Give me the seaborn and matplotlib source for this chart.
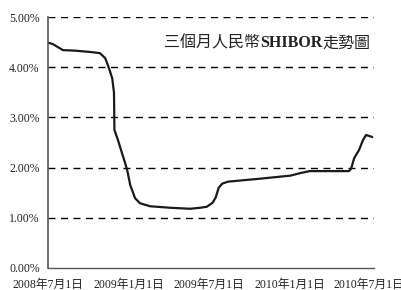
import pandas as pd
import matplotlib
matplotlib.use('Agg')
import matplotlib.pyplot as plt
import seaborn as sns

# 3-month CNY SHIBOR
dates = ['2008-07-01', '2008-07-12', '2008-08-04', '2008-08-31', '2008-10-09',
         '2008-10-27', '2008-11-08', '2008-11-15', '2008-11-24', '2008-11-28',
         '2008-11-29', '2008-12-07', '2008-12-14', '2008-12-23', '2008-12-28',
         '2009-01-04', '2009-01-15', '2009-01-26', '2009-02-18', '2009-04-05',
         '2009-05-20', '2009-06-12', '2009-06-27', '2009-07-10', '2009-07-17',
         '2009-07-24', '2009-08-01', '2009-08-14', '2009-10-27', '2010-01-03',
         '2010-01-25', '2010-02-16', '2010-05-16', '2010-05-21', '2010-05-28',
         '2010-06-08', '2010-06-17', '2010-06-24', '2010-07-01', '2010-07-08']
rates = [4.49, 4.46, 4.34, 4.33, 4.30,
         4.28, 4.18, 4.02, 3.78, 3.49,
         2.75, 2.55, 2.35, 2.10, 1.95,
         1.65, 1.39, 1.29, 1.23, 1.20,
         1.18, 1.20, 1.22, 1.30, 1.40,
         1.60, 1.68, 1.72, 1.78, 1.84,
         1.89, 1.93, 1.93, 1.98, 2.19,
         2.35, 2.55, 2.65, 2.63, 2.61]

tick_dates = ['2008-07-01', '2009-01-01', '2009-07-01', '2010-01-01', '2010-07-01']
tick_labels = ['2008年7月1日', '2009年1月1日', '2009年7月1日', '2010年1月1日', '2010年7月1日']
y_ticks = [0, 1, 2, 3, 4, 5]

df = pd.DataFrame({'date': pd.to_datetime(dates), 'rate': rates})

sns.set_style('white')
plt.rcParams['font.family'] = ['Liberation Serif', 'Noto Sans CJK TC']

fig = plt.figure(figsize=(4.02, 2.90), dpi=100)
ax = fig.add_axes([48/402, 22/290, 326/402, 251/290])

sns.lineplot(data=df, x='date', y='rate', color='#1a1a1a', linewidth=1.6, ax=ax)

ax.set_ylim(0, 5)
ax.set_xlim(pd.Timestamp('2008-07-01'), pd.Timestamp('2010-07-12'))
ax.set_yticks(y_ticks)
ax.set_yticklabels([f'{v:.2f}%' for v in y_ticks], fontsize=8.5, color='#222222')
ax.set_xticks(pd.to_datetime(tick_dates))
ax.set_xticklabels(tick_labels, fontsize=8.5, color='#222222')
ax.tick_params(axis='x', direction='in', length=4, width=0.8, color='#333333', pad=8)
ax.tick_params(axis='y', length=0, pad=6)

for v in y_ticks[1:]:
    ax.axhline(v, color='black', linestyle=(0, (5, 4)), linewidth=1.0, zorder=0)

sns.despine(ax=ax, top=True, right=True)
ax.spines['left'].set_color('#555555')
ax.spines['bottom'].set_color('#555555')
ax.spines['left'].set_linewidth(1.2)
ax.spines['bottom'].set_linewidth(1.0)
ax.set_xlabel('')
ax.set_ylabel('')

# title in three pieces so SHIBOR can be bold
t1 = ax.text(0.355, 0.896, '三個月人民幣', transform=ax.transAxes,
             ha='left', va='center', fontsize=11.5, color='#222222',
             family='Noto Sans CJK TC')
t2 = ax.annotate('SHIBOR', xy=(1, 0.5), xycoords=t1, ha='left', va='center',
                 fontsize=11.5, fontweight='bold', color='#222222',
                 family='Liberation Serif')
ax.annotate('走勢圖', xy=(1, 0.5), xycoords=t2, ha='left', va='center',
            fontsize=11.5, color='#222222', family='Noto Sans CJK TC')

fig.savefig('out.png', dpi=100)
